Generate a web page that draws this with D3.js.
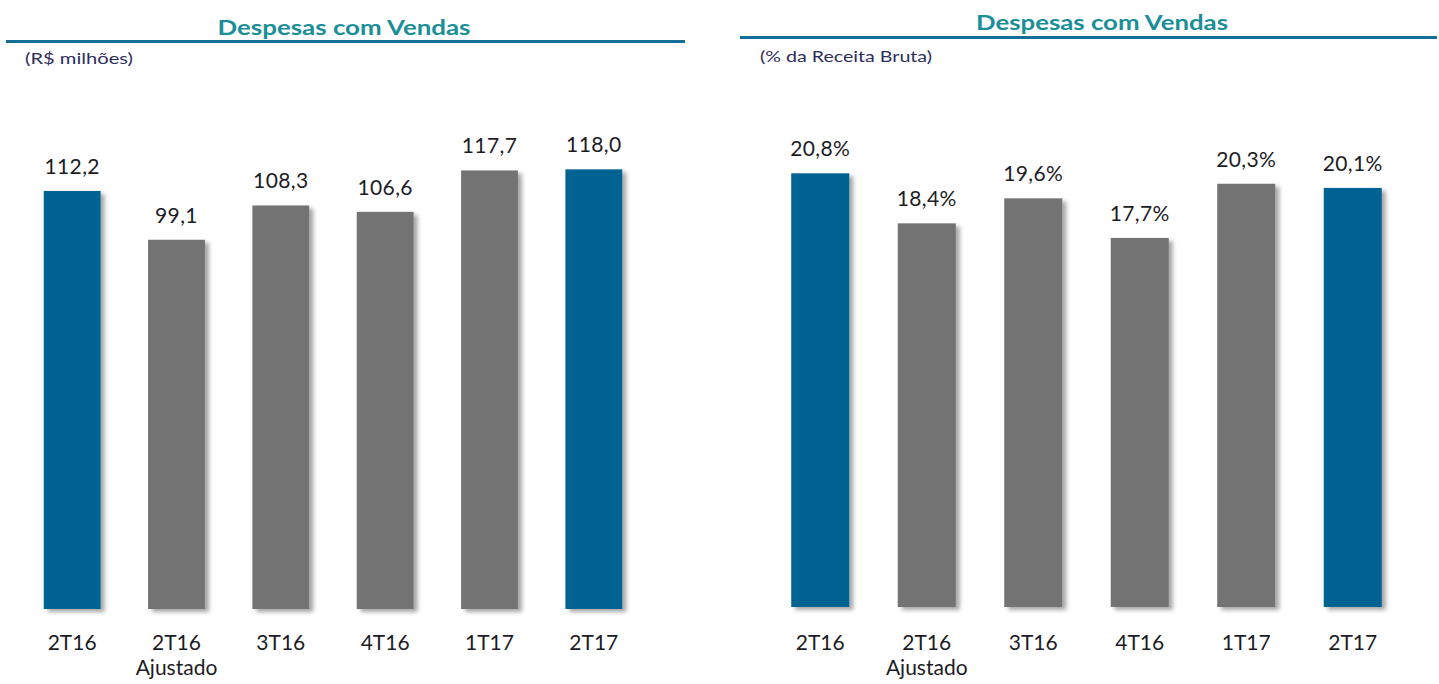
<!DOCTYPE html>
<html>
<head>
<meta charset="utf-8">
<script src="https://cdn.jsdelivr.net/npm/d3@7"></script>
<style>
  body { margin: 0; background: #fff; }
  svg { display: block; }
</style>
</head>
<body>
<script>
// data
var categories = ["2T16", "2T16|Ajustado", "3T16", "4T16", "1T17", "2T17"];
var valuesMilhoes = [112.2, 99.1, 108.3, 106.6, 117.7, 118.0];
var valuesPct = [20.8, 18.4, 19.6, 17.7, 20.3, 20.1];
var highlighted = ["2T16", "2T17"];

var W = 1439, H = 684;
var blue = "#006491", grey = "#737373", teal = "#1a8f98", lineBlue = "#146f98";
var font = "Lato, 'Open Sans', sans-serif";

var ptBR = d3.formatLocale({decimal: ",", thousands: ".", grouping: [3], currency: ["R$ ", ""]});
var fmt1 = ptBR.format(".1f");

var svg = d3.select("body").append("svg").attr("width", W).attr("height", H);

// soft shadow like the excel bars
var f = svg.append("defs").append("filter").attr("id", "shadow")
    .attr("x", "-20%").attr("y", "-5%").attr("width", "150%").attr("height", "115%");
f.append("feDropShadow").attr("dx", 4).attr("dy", 3).attr("stdDeviation", 2.2)
    .attr("flood-color", "#000").attr("flood-opacity", 0.35);

var panels = [
    {title: "Despesas com Vendas", sub: "(R$ milhões)", values: valuesMilhoes, suffix: "",
     titleX: 344, titleY: 35, titleW: 253, lineY: 41.5, lineX: [6, 685],
     subX: 25, subY: 64, subW: 108,
     xRange: [20, 646], yDomain: [0, 120], yRange: [609, 161.9]},
    {title: "Despesas com Vendas", sub: "(% da Receita Bruta)", values: valuesPct, suffix: "%",
     titleX: 1102, titleY: 30, titleW: 252, lineY: 37.5, lineX: [740, 1437],
     subX: 760, subY: 62, subW: 172,
     xRange: [767, 1406], yDomain: [0, 22], yRange: [607, 148.3]}
];

panels.forEach(function(p) {
    var g = svg.append("g");

    // header: title, rule, unit
    g.append("text").attr("x", p.titleX).attr("y", p.titleY)
        .attr("text-anchor", "middle").attr("textLength", p.titleW).attr("lengthAdjust", "spacingAndGlyphs")
        .style("font-family", font).style("font-weight", "bold").style("font-size", "21px")
        .attr("fill", teal).text(p.title);
    g.append("line").attr("x1", p.lineX[0]).attr("x2", p.lineX[1])
        .attr("y1", p.lineY).attr("y2", p.lineY)
        .attr("stroke", lineBlue).attr("stroke-width", 3);
    g.append("text").attr("x", p.subX).attr("y", p.subY)
        .attr("textLength", p.subW).attr("lengthAdjust", "spacingAndGlyphs")
        .style("font-family", font).style("font-size", "15px")
        .attr("fill", "#2e2e5c").text(p.sub);

    var x = d3.scaleBand().domain(categories).range(p.xRange)
        .paddingInner(0.455).paddingOuter(0.2275);
    var y = d3.scaleLinear().domain(p.yDomain).range(p.yRange);

    var rows = categories.map(function(c, i) { return {cat: c, value: p.values[i]}; });

    g.selectAll("rect.bar").data(rows).enter().append("rect")
        .attr("class", "bar")
        .attr("x", function(d) { return x(d.cat); })
        .attr("width", x.bandwidth())
        .attr("y", function(d) { return y(d.value); })
        .attr("height", function(d) { return y(0) - y(d.value); })
        .attr("fill", function(d) { return highlighted.indexOf(d.cat) >= 0 ? blue : grey; })
        .attr("filter", "url(#shadow)");

    g.selectAll("text.val").data(rows).enter().append("text")
        .attr("class", "val")
        .attr("x", function(d) { return x(d.cat) + x.bandwidth() / 2; })
        .attr("y", function(d) { return y(d.value) - 17; })
        .attr("text-anchor", "middle")
        .style("font-family", font).style("font-size", "21px").style("letter-spacing", "0.4px")
        .attr("fill", "#1c1c26")
        .text(function(d) { return fmt1(d.value) + p.suffix; });

    // category labels, second line for "Ajustado"
    var lab = g.selectAll("text.cat").data(rows).enter().append("text")
        .attr("class", "cat")
        .attr("text-anchor", "middle")
        .style("font-family", font).style("font-size", "21px")
        .attr("fill", "#1c1c26");
    lab.each(function(d) {
        var parts = d.cat.split("|");
        var cx = x(d.cat) + x.bandwidth() / 2;
        d3.select(this).selectAll("tspan").data(parts).enter().append("tspan")
            .attr("x", cx)
            .attr("y", function(t, i) { return 650 + i * 25; })
            .text(function(t) { return t; });
    });
});
</script>
</body>
</html>
